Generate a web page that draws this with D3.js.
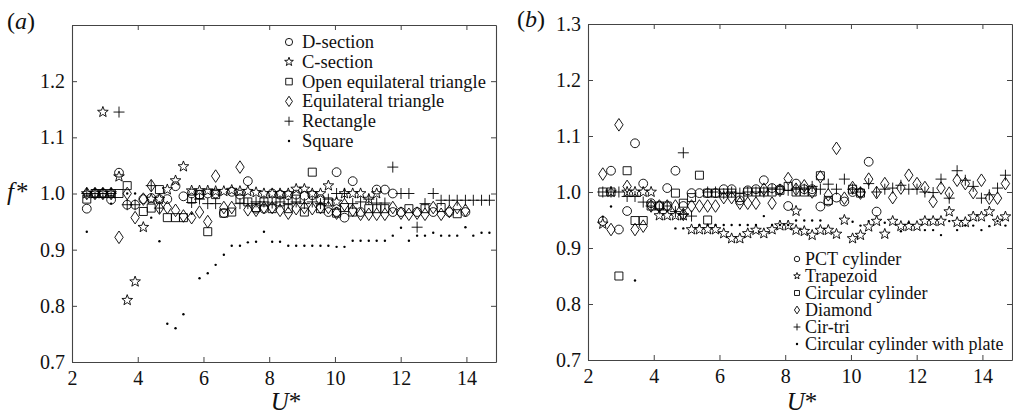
<!DOCTYPE html>
<html>
<head>
<meta charset="utf-8">
<script src="https://cdn.jsdelivr.net/npm/d3@7"></script>
<style>
  html, body { margin: 0; padding: 0; background: #fff; }
  svg { display: block; }
</style>
</head>
<body>
<svg id="chart" width="1013" height="415"></svg>
<script>
// ---- axis ticks ----
const xTickValues = [2, 4, 6, 8, 10, 12, 14];
const xTickLabels = ["2", "4", "6", "8", "10", "12", "14"];
const yTickValues = [0.7, 0.8, 0.9, 1.0, 1.1, 1.2, 1.3];
const yTickLabelsA = ["0.7", "0.8", "0.9", "1.0", "1.1", "1.2", ""];
const yTickLabelsB = ["0.7", "0.8", "0.9", "1.0", "1.1", "1.2", "1.3"];

// ---- panel (a): [U*, f*] ----
const dSection = [
  [2.45,0.973],[2.70,1.000],[2.94,1.000],[3.19,0.989],[3.43,1.037],[3.68,0.980],[3.92,0.980],
  [4.17,0.990],[4.41,0.992],[4.66,0.990],[4.90,0.990],[5.15,1.013],[5.39,0.995],[5.64,1.000],
  [5.88,0.998],[6.13,1.000],[6.37,1.000],[6.62,0.965],[6.86,1.003],[7.11,0.998],[7.35,1.022],
  [7.60,0.973],[7.84,0.973],[8.09,1.000],[8.33,0.998],[8.58,0.997],[8.82,0.998],[9.07,0.996],
  [9.31,0.997],[9.56,0.990],[9.80,0.967],[10.05,1.038],[10.05,0.967],[10.29,0.957],[10.54,1.022],
  [10.78,0.967],[11.27,1.007],[11.52,1.007],[11.76,1.000],[11.76,0.967],[12.01,0.967],
  [12.50,0.967],[12.99,0.967],[13.48,0.967],[13.97,0.967]
];
const cSection = [
  [2.45,1.000],[2.70,1.000],[2.94,1.145],[2.94,1.000],[3.19,1.000],[3.43,1.030],[3.68,0.810],
  [3.92,0.843],[4.17,0.940],[4.41,0.990],[4.66,0.990],[4.90,1.007],[5.15,1.023],[5.39,1.048],
  [5.64,1.005],[5.88,1.005],[6.13,1.005],[6.37,1.004],[6.62,1.004],[6.86,1.006],[7.11,1.004],
  [7.35,1.004],[7.60,1.002],[7.84,1.000],[8.09,1.000],[8.33,1.000],[8.58,1.000],[8.82,1.008],
  [9.07,1.008],[9.31,1.000],[9.56,1.000],[9.80,1.014],[10.05,0.985],[10.29,1.000],[10.54,1.000],
  [10.78,1.000],[11.03,0.990],[11.27,1.000]
];
const openTriangle = [
  [2.45,0.990],[2.70,1.000],[2.94,1.000],[3.19,1.000],[3.43,1.000],[3.68,1.014],[4.17,0.968],
  [4.41,0.974],[4.66,1.007],[4.90,0.957],[5.15,0.957],[5.39,0.957],[5.64,0.990],[5.88,0.998],
  [6.13,0.932],[6.37,0.998],[6.62,0.965],[6.86,0.967],[7.11,0.990],[7.35,0.985],[7.60,0.975],
  [7.84,0.985],[8.09,0.973],[8.33,0.985],[8.58,0.973],[8.82,0.990],[9.07,0.967],[9.31,1.038],
  [9.56,0.973],[9.80,0.985],[10.05,0.965],[10.29,0.975],[10.54,0.967],[11.03,0.973],[11.27,0.973],
  [11.52,0.973],[12.25,0.973],[12.74,0.973],[13.23,0.975],[13.72,0.964]
];
const eqTriangle = [
  [2.45,1.000],[2.70,1.000],[2.94,1.000],[3.19,1.000],[3.43,0.922],[3.68,1.000],[3.92,0.957],
  [4.17,0.990],[4.41,1.014],[4.66,0.974],[4.90,0.975],[5.15,0.970],[5.39,0.960],[5.64,0.957],
  [5.88,0.967],[6.13,0.950],[6.37,1.031],[6.62,0.975],[6.86,0.975],[7.11,1.047],[7.35,0.971],
  [7.60,0.970],[7.84,0.975],[8.09,0.975],[8.33,0.970],[8.58,0.965],[8.82,0.973],[9.07,0.975],
  [9.31,0.973],[9.56,0.975],[9.80,0.975],[10.05,0.965],[10.29,0.980],[10.54,0.970],[10.78,0.963],
  [11.03,0.963],[11.27,0.963],[11.52,0.963],[11.76,0.975],[12.01,0.965],[12.25,0.963],
  [12.50,0.965],[12.74,0.963],[12.99,0.975],[13.23,0.963],[13.48,0.968],[13.72,0.975],[13.97,0.970]
];
const rectangle = [
  [2.45,1.000],[2.70,1.000],[2.94,1.000],[3.19,1.000],[3.43,1.145],[3.68,0.980],[3.92,0.980],
  [4.41,1.014],[4.66,0.974],[5.64,0.984],[5.88,0.990],[6.13,0.982],[6.37,0.982],[7.11,0.982],
  [7.35,0.982],[7.60,0.985],[7.84,0.985],[8.09,0.983],[8.33,0.985],[8.58,0.982],[8.82,0.985],
  [9.07,0.982],[9.31,0.985],[9.56,0.982],[9.80,0.990],[10.05,1.000],[10.29,1.000],[10.54,0.982],
  [10.78,0.985],[11.03,0.990],[11.27,0.983],[11.52,0.983],[11.76,1.047],[12.01,1.000],
  [12.25,1.000],[12.50,0.940],[12.74,0.982],[12.99,1.000],[13.23,0.988],[13.48,0.988],
  [13.72,0.988],[13.97,0.988],[14.21,0.988],[14.46,0.988],[14.70,0.988]
];
const squareSection = [
  [2.45,0.932],[3.19,0.982],[3.68,1.000],[3.92,1.000],[4.41,0.957],[4.66,0.915],[4.90,0.768],
  [5.15,0.760],[5.39,0.785],[5.64,0.964],[5.88,0.849],[6.13,0.858],[6.37,0.873],[6.62,0.891],
  [6.86,0.907],[7.11,0.907],[7.35,0.913],[7.60,0.914],[7.84,0.932],[8.09,0.914],[8.33,0.914],
  [8.58,0.907],[8.82,0.907],[9.07,0.907],[9.31,0.907],[9.56,0.907],[9.80,0.907],[10.05,0.905],
  [10.29,0.905],[10.54,0.916],[10.78,0.916],[11.03,0.916],[11.27,0.916],[11.52,0.916],
  [11.76,0.925],[12.01,0.939],[12.25,0.916],[12.50,0.925],[12.74,0.925],[12.99,0.930],
  [13.23,0.925],[13.48,0.925],[13.72,0.925],[13.97,0.940],[14.21,0.925],[14.46,0.930],[14.70,0.930]
];

// ---- panel (b): [U*, f*] ----
const pctCylinder = [
  [2.45,0.948],[2.70,1.038],[2.94,0.933],[3.19,0.966],[3.43,1.087],[3.68,1.015],[3.92,0.980],
  [4.17,0.975],[4.41,1.007],[4.66,1.038],[4.90,0.975],[5.15,0.998],[5.39,0.998],[5.64,0.998],
  [5.88,0.998],[6.13,1.005],[6.37,1.005],[6.62,0.985],[6.86,1.003],[7.11,1.005],[7.35,1.021],
  [7.60,1.007],[7.84,1.005],[8.09,0.975],[8.33,1.015],[8.58,1.005],[8.82,1.005],[9.07,0.974],
  [9.31,0.983],[9.56,0.990],[9.80,0.983],[10.05,1.000],[10.29,0.999],[10.54,1.054],[10.78,0.965]
];
const trapezoid = [
  [2.45,0.943],[2.70,1.000],[3.19,1.000],[3.43,1.000],[3.68,1.000],[3.92,1.000],[4.17,0.958],
  [4.41,0.958],[4.66,0.958],[4.90,0.958],[5.15,0.933],[5.39,0.933],[5.64,0.933],[5.88,0.933],
  [6.13,0.926],[6.37,0.917],[6.62,0.917],[6.86,0.926],[7.11,0.932],[7.35,0.926],[7.60,0.933],
  [7.84,0.940],[8.09,0.940],[8.33,0.966],[8.33,0.932],[8.58,0.930],[8.82,0.923],[9.07,0.932],
  [9.31,0.932],[9.56,0.925],[9.80,0.950],[10.05,0.917],[10.29,0.923],[10.54,0.938],[10.78,0.948],
  [11.03,0.925],[11.27,0.948],[11.52,0.939],[11.76,0.939],[12.01,0.939],[12.25,0.948],
  [12.50,0.948],[12.74,0.948],[12.99,0.965],[13.23,0.946],[13.48,0.946],[13.72,0.956],
  [13.97,0.956],[14.21,0.965],[14.46,0.948],[14.70,0.956]
];
const circCylinder = [
  [2.45,1.000],[2.70,1.000],[2.94,0.850],[3.19,1.038],[3.43,0.949],[3.68,0.949],[3.92,0.975],
  [4.17,0.975],[4.41,0.975],[4.66,0.998],[4.90,0.980],[5.15,0.990],[5.39,1.030],[5.64,0.950],
  [5.64,0.998],[5.88,0.998],[6.13,0.998],[6.37,0.998],[6.62,0.990],[6.86,1.000],[7.11,1.000],
  [7.35,1.000],[7.60,1.000],[7.84,1.003],[8.09,1.010],[8.33,1.000],[8.58,1.000],[8.82,1.000],
  [9.07,1.029],[9.31,0.985],[10.05,1.005],[10.29,0.998]
];
const diamondSection = [
  [2.45,1.032],[2.70,0.933],[2.94,1.120],[3.19,1.010],[3.43,0.933],[3.68,0.939],[3.92,0.975],
  [4.17,0.975],[4.41,0.975],[4.66,0.975],[4.90,0.960],[5.15,0.975],[5.39,0.975],[5.64,0.975],
  [5.88,0.975],[6.13,0.990],[6.37,0.990],[6.62,0.980],[6.86,0.980],[7.11,0.980],[7.35,1.005],
  [7.60,0.980],[7.84,1.003],[8.09,1.024],[8.33,1.005],[8.58,1.011],[8.82,1.000],[9.07,1.027],
  [9.31,0.995],[9.56,1.078],[9.80,0.989],[10.05,1.008],[10.29,0.998],[10.54,1.023],[10.78,0.999],
  [11.03,1.015],[11.27,0.990],[11.52,1.007],[11.76,1.030],[12.01,1.015],[12.25,1.008],
  [12.50,0.983],[12.74,1.007],[12.99,0.998],[13.23,1.021],[13.48,1.015],[13.72,0.999],
  [13.97,1.021],[14.21,0.989],[14.46,0.989],[14.70,1.015]
];
const cirTri = [
  [2.45,1.000],[2.70,1.000],[2.94,1.000],[3.19,0.992],[3.43,0.992],[3.68,0.982],[3.92,0.975],
  [4.17,0.970],[4.41,0.975],[4.66,0.965],[4.90,1.070],[4.90,0.960],[5.15,0.957],[5.64,1.000],
  [5.88,1.000],[6.13,0.997],[6.37,1.000],[6.62,0.998],[6.86,1.000],[7.11,1.000],[7.35,1.000],
  [7.60,1.005],[7.84,1.005],[8.09,1.003],[8.33,1.005],[8.58,1.005],[8.82,1.010],[9.07,1.005],
  [9.31,1.014],[9.56,1.005],[9.80,1.023],[10.05,1.005],[10.29,1.000],[10.54,1.015],[10.78,1.000],
  [11.03,1.005],[11.27,1.007],[11.52,1.012],[11.76,1.005],[12.01,1.005],[12.25,1.000],
  [12.50,0.999],[12.74,1.023],[12.99,0.989],[13.23,1.038],[13.48,1.021],[13.72,1.010],
  [13.97,0.989],[14.21,0.995],[14.46,1.007],[14.70,1.030]
];
const cylWithPlate = [
  [2.45,0.956],[2.70,0.974],[3.43,0.842],[4.66,0.935],[4.90,0.935],[5.39,0.941],[5.64,0.941],
  [5.88,0.941],[6.13,0.941],[6.37,0.941],[6.62,0.941],[6.86,0.941],[7.11,0.941],[7.35,0.957],
  [7.60,0.941],[7.84,0.941],[8.09,0.941],[8.33,0.949],[8.58,0.949],[8.82,0.949],[9.07,0.949],
  [10.05,0.947],[10.29,0.940],[10.54,0.948],[11.03,0.945],[11.52,0.930],[11.76,0.945],
  [12.25,0.932],[12.50,0.932],[12.74,0.923],[12.99,0.948],[13.23,0.932],[13.48,0.940],
  [13.72,0.940],[13.97,0.932],[14.21,0.939],[14.46,0.948],[14.70,0.940]
];

const legendNamesA = ["D-section", "C-section", "Open equilateral triangle", "Equilateral triangle", "Rectangle", "Square"];
const legendNamesB = ["PCT cylinder", "Trapezoid", "Circular cylinder", "Diamond", "Cir-tri", "Circular cylinder with plate"];

const SERIF = "'Liberation Serif', 'Times New Roman', Times, serif";

// ---- marker shapes (paths centred at 0,0) ----
function starPath(R) {
  const r = R * 0.42, pts = [];
  for (let i = 0; i < 10; i++) {
    const a = -Math.PI / 2 + i * Math.PI / 5, rr = i % 2 ? r : R;
    pts.push([rr * Math.cos(a), rr * Math.sin(a)]);
  }
  return "M" + pts.map(p => p[0].toFixed(2) + "," + p[1].toFixed(2)).join("L") + "Z";
}
function marker(type, s) {
  switch (type) {
    case "circle": { const r = 4.4 * s; return `M${r},0A${r},${r} 0 1,1 ${-r},0A${r},${r} 0 1,1 ${r},0Z`; }
    case "star": return starPath(5.6 * s);
    case "square": { const h = 4 * s; return `M${-h},${-h}H${h}V${h}H${-h}Z`; }
    case "diamond": { const w = 4.2 * s, h = 6.3 * s; return `M0,${-h}L${w},0L0,${h}L${-w},0Z`; }
    case "plus": { const h = 5.5 * s; return `M${-h},0H${h}M0,${-h}V${h}`; }
    case "dot": { const r = 1.2; return `M${r},0A${r},${r} 0 1,1 ${-r},0A${r},${r} 0 1,1 ${r},0Z`; }
  }
}
const markerTypes = ["circle", "star", "square", "diamond", "plus", "dot"];

function drawMarks(g, data, type, x, y, s) {
  g.append("g").selectAll("path").data(data).join("path")
    .attr("transform", d => `translate(${x(d[0])},${y(d[1])})`)
    .attr("d", marker(type, s))
    .attr("fill", type === "dot" ? "#000" : "none")
    .attr("stroke", type === "dot" ? "none" : "#000")
    .attr("stroke-width", 0.9);
}

const svg = d3.select("#chart");
const axisColor = "#444";

function panel(opts) {
  const { left, right, top, bottom, yLabels, series, legend, tag, showYTitle } = opts;
  const x = d3.scaleLinear().domain([2, 14.9]).range([left, right]);
  const y = d3.scaleLinear().domain([0.7, 1.3]).range([bottom, top]);
  const g = svg.append("g");

  // frame with inward ticks on all four sides
  const axB = g.append("g").attr("transform", `translate(0,${bottom})`)
    .call(d3.axisBottom(x).tickValues(xTickValues).tickSize(-5).tickSizeOuter(0).tickPadding(9)
      .tickFormat((d, i) => xTickLabels[i]));
  const axT = g.append("g").attr("transform", `translate(0,${top})`)
    .call(d3.axisTop(x).tickValues(xTickValues).tickSize(-5).tickSizeOuter(0).tickFormat(""));
  const axL = g.append("g").attr("transform", `translate(${left},0)`)
    .call(d3.axisLeft(y).tickValues(yTickValues).tickSize(-5).tickSizeOuter(0).tickPadding(7)
      .tickFormat((d, i) => yLabels[i]));
  const axR = g.append("g").attr("transform", `translate(${right},0)`)
    .call(d3.axisRight(y).tickValues(yTickValues).tickSize(-5).tickSizeOuter(0).tickFormat(""));
  [axB, axT, axL, axR].forEach(a => {
    a.attr("font-family", null).attr("font-size", null);
    a.selectAll("path.domain").attr("stroke", axisColor).attr("stroke-width", 1.1);
    a.selectAll(".tick line").attr("stroke", axisColor).attr("stroke-width", 1);
    a.selectAll(".tick text").attr("fill", "#111")
      .style("font-family", SERIF).style("font-size", "20px");
  });

  // data marks
  series.forEach(([data, type]) => drawMarks(g, data, type, x, y, 1));

  // legend
  legend.names.forEach((name, i) => {
    const cy = legend.y0 + i * legend.dy;
    g.append("path").attr("transform", `translate(${legend.mx},${cy})`)
      .attr("d", marker(markerTypes[i], legend.ms))
      .attr("fill", markerTypes[i] === "dot" ? "#000" : "none")
      .attr("stroke", markerTypes[i] === "dot" ? "none" : "#000").attr("stroke-width", 0.9);
    g.append("text").attr("x", legend.tx).attr("y", cy + 6)
      .style("font-family", SERIF).style("font-size", legend.fs).attr("fill", "#111").text(name);
  });

  // axis titles and panel tag
  const ut = g.append("text").attr("x", (left + right) / 2 + 2).attr("y", 410)
    .attr("text-anchor", "middle").style("font-family", SERIF).style("font-size", "25px").attr("fill", "#111");
  ut.append("tspan").style("font-style", "italic").text("U");
  ut.append("tspan").text("*");
  if (showYTitle) {
    const ft = g.append("text").attr("x", 7).attr("y", 200)
      .style("font-family", SERIF).style("font-size", "25px").attr("fill", "#111");
    ft.append("tspan").style("font-style", "italic").text("f");
    ft.append("tspan").attr("dx", 2).text("*");
  }
  const tg = g.append("text").attr("x", tag.x).attr("y", tag.y)
    .style("font-family", SERIF).style("font-size", "24px").attr("fill", "#111");
  tg.append("tspan").text("(");
  tg.append("tspan").style("font-style", "italic").text(tag.letter);
  tg.append("tspan").text(")");
}

panel({
  left: 72, right: 496, top: 25, bottom: 362, yLabels: yTickLabelsA, showYTitle: true,
  tag: { x: 7, y: 29, letter: "a" },
  series: [[squareSection, "dot"], [eqTriangle, "diamond"], [openTriangle, "square"],
           [dSection, "circle"], [rectangle, "plus"], [cSection, "star"]],
  legend: { names: legendNamesA, mx: 289, tx: 302, y0: 42, dy: 19.8, ms: 0.82, fs: "18.5px" }
});
panel({
  left: 588, right: 1012, top: 24, bottom: 360, yLabels: yTickLabelsB, showYTitle: false,
  tag: { x: 517, y: 27, letter: "b" },
  series: [[cylWithPlate, "dot"], [diamondSection, "diamond"], [circCylinder, "square"],
           [pctCylinder, "circle"], [cirTri, "plus"], [trapezoid, "star"]],
  legend: { names: legendNamesB, mx: 797, tx: 805, y0: 259, dy: 17, ms: 0.62, fs: "18px" }
});
</script>
</body>
</html>
